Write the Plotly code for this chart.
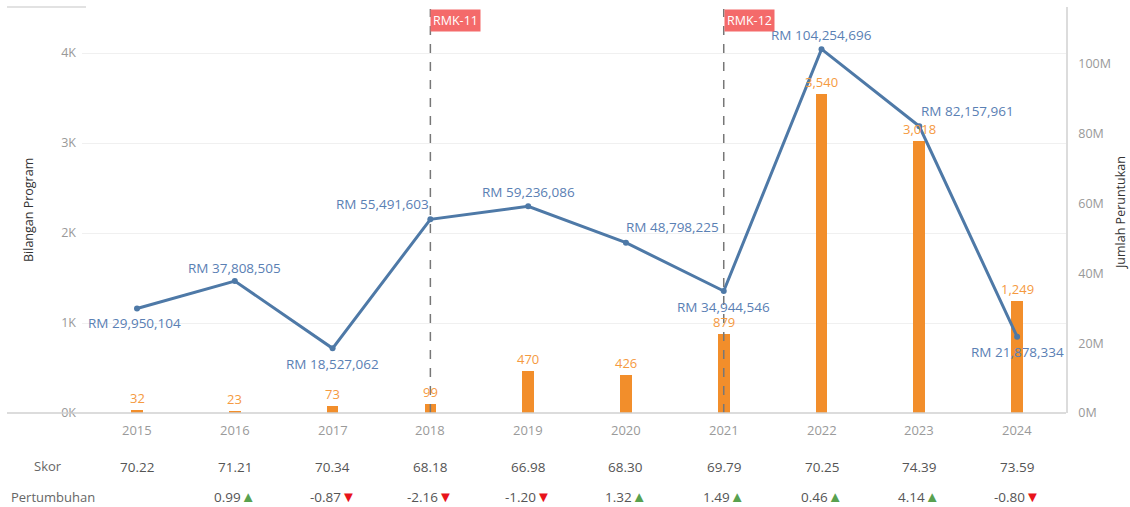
import plotly.graph_objects as go

# ---- data ----
years = [2015, 2016, 2017, 2018, 2019, 2020, 2021, 2022, 2023, 2024]
programs = [32, 23, 73, 99, 470, 426, 879, 3540, 3018, 1249]
allocation = [29950104, 37808505, 18527062, 55491603, 59236086,
              48798225, 34944546, 104254696, 82157961, 21878334]
skor = [70.22, 71.21, 70.34, 68.18, 66.98, 68.30, 69.79, 70.25, 74.39, 73.59]
growth = [None, 0.99, -0.87, -2.16, -1.20, 1.32, 1.49, 0.46, 4.14, -0.80]
rmk_years = [2018, 2021]
rmk_labels = ["RMK-11", "RMK-12"]
left_ticks = [0, 1000, 2000, 3000, 4000]
left_ticktext = ["0K", "1K", "2K", "3K", "4K"]
right_ticks = [0, 20e6, 40e6, 60e6, 80e6, 100e6]
right_ticktext = ["0M", "20M", "40M", "60M", "80M", "100M"]

# ---- styling ----
W, H = 1130, 507
ML, MR, MT, MB = 82, 64, 7, 94
PLOT_H = H - MT - MB
FONT = "Open Sans"
BLUE = "#4e79a7"
BLUE_TXT = "#5a80b4"
ORANGE = "#f28e2b"
ORANGE_TXT = "#f59a3f"
GREEN = "#59a14f"
RED = "#e8131b"

# label offsets (pixels) for the allocation labels: (xshift, yshift)
line_label_offsets = [(-3, -15), (0, 13), (0, -16), (-48, 15), (0, 14),
                      (47, 16), (0, -16), (0, 14), (48, 15), (0, -15)]


def py(pixel_y):
    """Convert a page pixel row to paper coordinates."""
    return (H - MB - pixel_y) / PLOT_H


def px(pixel_x):
    return (pixel_x - ML) / (W - ML - MR)


def note(**kw):
    base = dict(showarrow=False, xanchor="center", yanchor="middle")
    base.update(kw)
    return base


fig = go.Figure()

fig.add_trace(go.Bar(
    x=years, y=programs, width=0.12, marker=dict(color=ORANGE, line_width=0),
    yaxis="y", hoverinfo="skip", showlegend=False,
))

fig.add_trace(go.Scatter(
    x=years, y=allocation, yaxis="y2", mode="lines+markers",
    line=dict(color=BLUE, width=3), marker=dict(color=BLUE, size=6),
    cliponaxis=False, showlegend=False, hoverinfo="skip",
))

annotations = []
for yr, val in zip(years, programs):
    annotations.append(note(
        x=yr, y=val, xref="x", yref="y", text=f"{val:,}", yshift=12,
        font=dict(color=ORANGE_TXT, size=13, family=FONT),
    ))

for yr, val, (dx, dy) in zip(years, allocation, line_label_offsets):
    annotations.append(note(
        x=yr, y=val, xref="x", yref="y2", text=f"RM {val:,}",
        xshift=dx, yshift=dy, font=dict(color=BLUE_TXT, size=13.5, family=FONT),
    ))

# RMK markers
shapes = []
for yr, lab in zip(rmk_years, rmk_labels):
    shapes.append(dict(type="line", xref="x", yref="paper", x0=yr, x1=yr,
                       y0=0, y1=py(9), line=dict(color="#777", width=1.5, dash="dash")))
    annotations.append(note(
        x=yr, y=py(9), xref="x", yref="paper", xanchor="left", yanchor="top",
        text=lab, bgcolor="#f46a6a", borderpad=2,
        font=dict(color="white", size=12.5, family=FONT),
    ))

# baseline and top rule
shapes.append(dict(type="line", xref="paper", yref="paper", x0=px(7), x1=1,
                   y0=0, y1=0, line=dict(color="#d0d0d0", width=1.5)))
shapes.append(dict(type="line", xref="paper", yref="paper", x0=px(7), x1=px(86),
                   y0=py(7), y1=py(7), line=dict(color="#d8d8d8", width=1.5)))

# table below the chart
for yr, s, g in zip(years, skor, growth):
    annotations.append(note(x=yr, y=py(430), xref="x", yref="paper", text=str(yr),
                            font=dict(color="#9a9a9a", size=13, family=FONT)))
    annotations.append(note(x=yr, y=py(467), xref="x", yref="paper", text=f"{s:.2f}",
                            font=dict(color="#555", size=13.5, family=FONT)))
    if g is not None:
        arrow = (f"<span style='color:{GREEN};font-size:15px'>▲</span>" if g >= 0
                 else f"<span style='color:{RED};font-size:15px'>▼</span>")
        annotations.append(note(x=yr, y=py(496), xref="x", yref="paper",
                                text=f"{g:.2f}{arrow}",
                                font=dict(color="#555", size=13.5, family=FONT)))

annotations.append(note(x=px(48), y=py(466), xref="paper", yref="paper", text="Skor",
                        font=dict(color="#666", size=13, family=FONT)))
annotations.append(note(x=px(9), y=py(497), xref="paper", yref="paper", xanchor="left",
                        text="Pertumbuhan", font=dict(color="#666", size=13, family=FONT)))

# axis titles
annotations.append(note(x=px(28), y=py(210), xref="paper", yref="paper",
                        text="Bilangan Program", textangle=-90,
                        font=dict(color="#333", size=12.5, family=FONT)))
annotations.append(note(x=px(1121), y=py(213), xref="paper", yref="paper",
                        text="Jumlah Peruntukan", textangle=-90,
                        font=dict(color="#333", size=12.5, family=FONT)))

fig.update_layout(
    width=W, height=H, margin=dict(l=ML, r=MR, t=MT, b=MB),
    paper_bgcolor="white", plot_bgcolor="white",
    font=dict(family=FONT),
    bargap=0,
    xaxis=dict(range=[2014.4375, 2024.5], showticklabels=False, showgrid=False,
               zeroline=False, showline=False, ticks=""),
    yaxis=dict(range=[0, PLOT_H / 90 * 1000], tickvals=left_ticks, ticktext=left_ticktext,
               showgrid=True, gridcolor="#f0f0f0", zeroline=False, showline=False,
               tickfont=dict(color="#999", size=12.5, family=FONT), ticklabelstandoff=5),
    yaxis2=dict(range=[0, PLOT_H / 3.49 * 1e6], tickvals=right_ticks, ticktext=right_ticktext,
                overlaying="y", side="right", showgrid=False, zeroline=False,
                showline=True, linecolor="#dcdcdc", linewidth=1.5,
                tickfont=dict(color="#999", size=12.5, family=FONT), ticklabelstandoff=8),
    annotations=annotations, shapes=shapes,
)

fig.write_html("out.html")
